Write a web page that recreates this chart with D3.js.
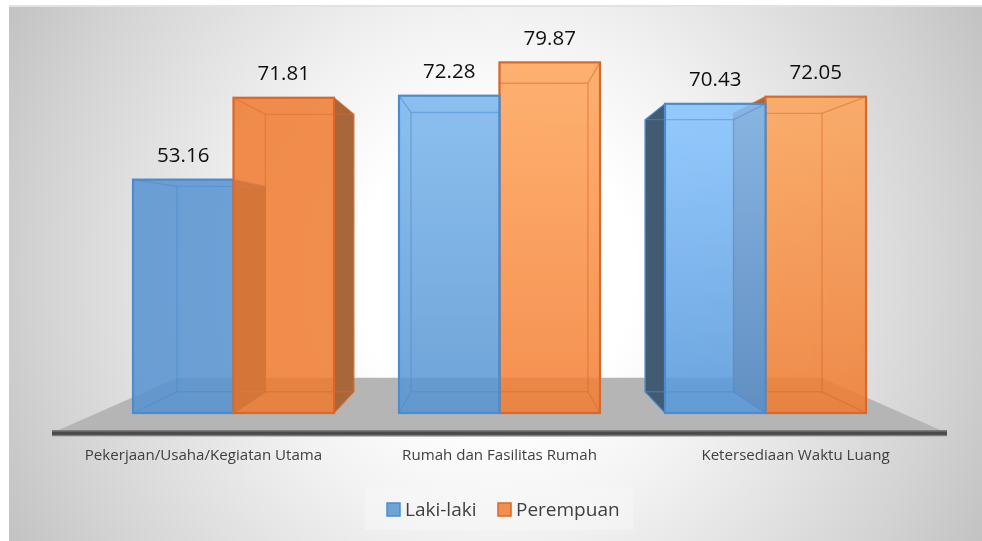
<!DOCTYPE html>
<html>
<head>
<meta charset="utf-8">
<script src="https://cdn.jsdelivr.net/npm/d3@7"></script>
<style>
  html, body { margin: 0; padding: 0; background: #fff; overflow: hidden; }
  text { font-family: "Open Sans", sans-serif; }
</style>
</head>
<body>
<svg id="chart" width="982" height="541"></svg>
<script>
const categories = ["Pekerjaan/Usaha/Kegiatan Utama", "Rumah dan Fasilitas Rumah", "Ketersediaan Waktu Luang"];
const series = ["Laki-laki", "Perempuan"];
const lakiLaki = [53.16, 72.28, 70.43];
const perempuan = [71.81, 79.87, 72.05];

const width = 982;
const height = 541;
const baseline = 413;
const floorFront = 433;

// every bar is a front box and a back box shrunk towards this point
const vanish = { x: 499, y: 236 };
const depth = 0.12;

// top and bottom colour of the bars, per category
const blueFill = [["#5593d1", "#5593d1"], ["#78b5ed", "#5593d1"], ["#83c2ff", "#5496da"]];
const orangeFill = [["#f07a2f", "#f07a2f"], ["#ffa459", "#f37c31"], ["#fda357", "#f07a2f"]];
const lineColor = { "Laki-laki": "#4a8ccf", "Perempuan": "#d9692a" };
const sideColor = { "Laki-laki": "#425a72", "Perempuan": "#a8663a" };

const x0 = d3.scaleBand().domain(categories).range([133, 866]).paddingInner(0.2444);
const x1 = d3.scaleBand().domain(series).range([0, x0.bandwidth()]);
const y = d3.scaleLinear().domain([0, 80]).range([baseline, baseline - 351.2]);
const labelX = d3.scalePoint().domain(categories).range([203, 795]);

const svg = d3.select("#chart");
const defs = svg.append("defs");

// the grey closes in from the sides more than from top and bottom
const bgGrad = defs.append("radialGradient").attr("id", "bg").attr("cx", 0.5).attr("cy", 0.5).attr("r", 0.71)
    .attr("gradientTransform", "translate(0.5 0.5) scale(1 1.9) translate(-0.5 -0.5)");
bgGrad.append("stop").attr("offset", 0.2).attr("stop-color", "#ffffff");
bgGrad.append("stop").attr("offset", 0.36).attr("stop-color", "#f2f2f2");
bgGrad.append("stop").attr("offset", 0.66).attr("stop-color", "#d3d3d3");
bgGrad.append("stop").attr("offset", 0.8).attr("stop-color", "#c2c2c2");

const edgeGrad = defs.append("linearGradient").attr("id", "edge").attr("x1", 0).attr("x2", 0).attr("y1", 0).attr("y2", 1);
edgeGrad.append("stop").attr("offset", 0).attr("stop-color", "#8a8a8a");
edgeGrad.append("stop").attr("offset", 0.4).attr("stop-color", "#444444");
edgeGrad.append("stop").attr("offset", 0.7).attr("stop-color", "#555555");
edgeGrad.append("stop").attr("offset", 1).attr("stop-color", "#dddddd");

defs.append("filter").attr("id", "soft")
    .append("feGaussianBlur").attr("stdDeviation", 0.6);
defs.append("filter").attr("id", "softText")
    .append("feGaussianBlur").attr("stdDeviation", 0.3);

function project(p) {
    return [p[0] + depth * (vanish.x - p[0]), p[1] + depth * (vanish.y - p[1])];
}

// page and plot background
svg.append("rect").attr("x", 9).attr("y", 5).attr("width", width - 9).attr("height", 2).attr("fill", "#e2e2e2");
svg.append("rect").attr("x", 9).attr("y", 7).attr("width", width - 9).attr("height", height - 7).attr("fill", "url(#bg)");

// floor
const floorLeft = 52;
const floorRight = 947;
const floorK = 0.28;
const squeeze = function (p) { return [p[0] + floorK * (vanish.x - p[0]), p[1] + floorK * (vanish.y - p[1])]; };
svg.append("polygon")
    .attr("points", [[floorLeft, floorFront], [floorRight, floorFront], squeeze([floorRight, floorFront]), squeeze([floorLeft, floorFront])].join(" "))
    .attr("fill", "#b5b5b5");
svg.append("rect")
    .attr("x", floorLeft).attr("y", floorFront - 3)
    .attr("width", floorRight - floorLeft).attr("height", 7)
    .attr("fill", "url(#edge)");

// bars, as flat list so they can be ordered
const bars = [];
categories.forEach(function (c, i) {
    bars.push({ category: c, index: i, name: series[0], value: lakiLaki[i], fill: blueFill[i] });
    bars.push({ category: c, index: i, name: series[1], value: perempuan[i], fill: orangeFill[i] });
});
bars.forEach(function (d) {
    d.x = x0(d.category) + x1(d.name);
    d.w = x1.bandwidth();
    d.cx = d.x + d.w / 2;
    d.top = y(d.value);
    d.gradId = "fill_" + d.index + "_" + series.indexOf(d.name);
    const g = defs.append("linearGradient").attr("id", d.gradId).attr("x1", 0).attr("x2", 0).attr("y1", 0).attr("y2", 1);
    g.append("stop").attr("offset", 0).attr("stop-color", d.fill[0]).attr("stop-opacity", 0.85);
    g.append("stop").attr("offset", 1).attr("stop-color", d.fill[1]).attr("stop-opacity", 0.85);
});

// bars further from the middle go first
const ordered = bars.slice().sort(function (a, b) {
    return Math.abs(b.cx - vanish.x) - Math.abs(a.cx - vanish.x);
});

const barGroup = svg.append("g").attr("filter", "url(#soft)");

barGroup.selectAll("g.bar")
    .data(ordered)
    .join("g")
    .attr("class", "bar")
    .each(function (d) {
        const g = d3.select(this);
        const fl = [d.x, d.top], fr = [d.x + d.w, d.top], br = [d.x + d.w, baseline], bl = [d.x, baseline];
        const bfl = project(fl), bfr = project(fr), bbr = project(br), bbl = project(bl);
        const stroke = lineColor[d.name];

        // a side that sticks out past the front is seen from outside, so it is dark
        if (bfr[0] > fr[0]) {
            g.append("polygon").attr("points", [fr, bfr, bbr, br].join(" "))
                .attr("fill", sideColor[d.name]).attr("stroke", stroke).attr("stroke-width", 1);
        }
        if (bfl[0] < fl[0]) {
            g.append("polygon").attr("points", [fl, bfl, bbl, bl].join(" "))
                .attr("fill", sideColor[d.name]).attr("stroke", stroke).attr("stroke-width", 1);
        }

        // front
        g.append("rect")
            .attr("x", d.x).attr("y", d.top)
            .attr("width", d.w).attr("height", baseline - d.top)
            .attr("fill", "url(#" + d.gradId + ")");

        // back box and the edges joining it
        const inner = g.append("g").attr("fill", "none").attr("stroke", stroke).attr("stroke-width", 1.4).attr("stroke-opacity", 0.5);
        inner.append("polygon").attr("points", [bfl, bfr, bbr, bbl].join(" "));
        [[fl, bfl], [fr, bfr], [br, bbr], [bl, bbl]].forEach(function (e) {
            inner.append("line")
                .attr("x1", e[0][0]).attr("y1", e[0][1])
                .attr("x2", e[1][0]).attr("y2", e[1][1]);
        });

        g.append("rect")
            .attr("x", d.x).attr("y", d.top)
            .attr("width", d.w).attr("height", baseline - d.top)
            .attr("fill", "none").attr("stroke", stroke).attr("stroke-width", 2.2);
    });

// value labels
svg.append("g")
    .attr("filter", "url(#softText)")
    .selectAll("text")
    .data(bars)
    .join("text")
    .attr("x", function (d) { return d.cx; })
    .attr("y", function (d) { return d.top - 25; })
    .attr("dy", "0.35em")
    .attr("text-anchor", "middle")
    .attr("font-size", 20.5)
    .attr("fill", "#111")
    .text(function (d) { return d.value.toFixed(2); });

// category axis
const axis = svg.append("g")
    .attr("transform", "translate(0, 449)")
    .attr("filter", "url(#softText)")
    .call(d3.axisBottom(labelX).tickSize(0).tickPadding(0));
axis.select(".domain").remove();
axis.selectAll("text")
    .style("font-family", '"Open Sans", sans-serif')
    .attr("font-size", 15.1)
    .attr("fill", "#404040");

// legend
const legend = svg.append("g");
legend.append("rect")
    .attr("x", 365).attr("y", 487).attr("width", 268).attr("height", 43)
    .attr("fill", "#f8f8f8").attr("fill-opacity", 0.5);
const legendX = d3.scaleOrdinal().domain(series).range([387, 498]);
const legendFill = { "Laki-laki": "#6fa3d8", "Perempuan": "#f28e4e" };
const legendItem = legend.selectAll("g")
    .data(series)
    .join("g")
    .attr("transform", function (d) { return "translate(" + legendX(d) + ", 503)"; });
legendItem.append("rect")
    .attr("width", 13).attr("height", 13)
    .attr("fill", function (d) { return legendFill[d]; })
    .attr("stroke", function (d) { return lineColor[d]; })
    .attr("stroke-width", 1.5);
legendItem.append("text")
    .attr("x", 18).attr("y", 6.5)
    .attr("dy", "0.35em")
    .attr("font-size", 19)
    .attr("fill", "#404040")
    .attr("filter", "url(#softText)")
    .text(function (d) { return d; });
</script>
</body>
</html>
